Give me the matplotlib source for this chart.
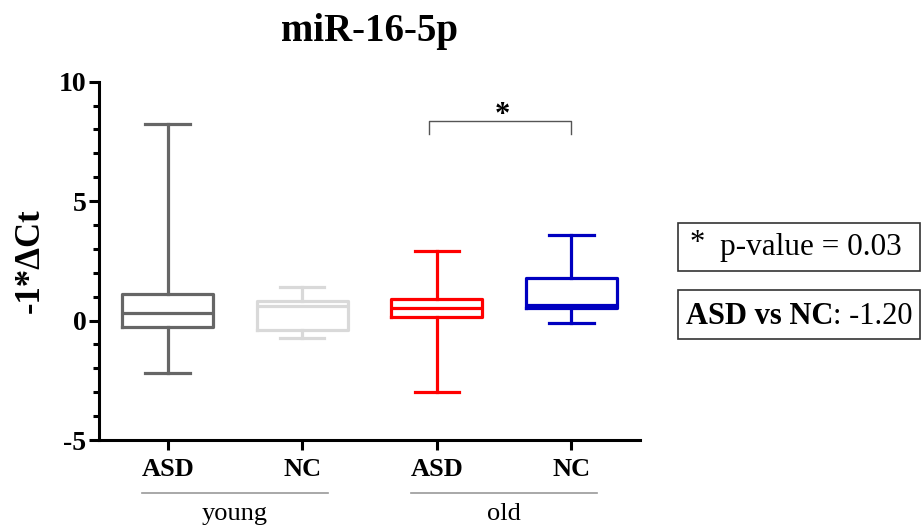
import matplotlib
matplotlib.use("Agg")
import matplotlib.pyplot as plt
import matplotlib.transforms as mtransforms
from matplotlib.patches import Rectangle
from matplotlib.ticker import MultipleLocator

plt.rcParams['font.family'] = ['Liberation Serif', 'DejaVu Serif']

# data
labels = ["ASD", "NC", "ASD", "NC"]
groups = ["young", "old"]
whislo = [-2.2, -0.75, -2.98, -0.1]
q1 = [-0.25, -0.39, 0.17, 0.54]
med = [0.31, 0.62, 0.52, 0.65]
q3 = [1.1, 0.82, 0.89, 1.79]
whishi = [8.25, 1.42, 2.92, 3.58]
colors = ["#666666", "#d9d9d9", "#ff0000", "#0000c0"]
pvalue = "p-value = 0.03"
fold = ": -1.20"

W, H = 924, 526
fig = plt.figure(figsize=(W / 100, H / 100), dpi=100)
ax = fig.add_axes([99 / W, 1 - 440 / H, (640 - 99) / W, (440 - 81.7) / H])

positions = [1, 2, 3, 4]
for i in range(4):
    st = [{"whislo": whislo[i], "q1": q1[i], "med": med[i], "q3": q3[i],
           "whishi": whishi[i], "fliers": []}]
    c = colors[i]
    ax.bxp(st, positions=[positions[i]], widths=0.675, showfliers=False,
           boxprops=dict(color=c, linewidth=2.3),
           medianprops=dict(color=c, linewidth=2.3),
           whiskerprops=dict(color=c, linewidth=2.3),
           capprops=dict(color=c, linewidth=2.3),
           capwidths=0.33, manage_ticks=False)

ax.set_xlim(0.49, 4.51)
ax.set_ylim(-5, 10)
ax.set_xticks(positions)
ax.set_xticklabels(labels, fontsize=19, fontweight="bold")
ax.set_yticks([-5, 0, 5, 10])
ax.set_yticklabels(["-5", "0", "5", "10"], fontsize=20, fontweight="bold")
ax.yaxis.set_minor_locator(MultipleLocator(1))
ax.tick_params(axis="both", which="major", length=7, width=2.2, pad=2)
ax.tick_params(axis="x", which="major", pad=6)
ax.tick_params(axis="y", which="minor", length=4.5, width=2.2)
for s in ["top", "right"]:
    ax.spines[s].set_visible(False)
for s in ["left", "bottom"]:
    ax.spines[s].set_linewidth(2.2)
ax.set_ylabel("-1*ΔCt", fontsize=25, fontweight="bold", labelpad=9)

fig.text(370 / W, 1 - 31 / H, "miR-16-5p", fontsize=28, fontweight="bold",
         ha="center", va="center")

# significance bracket
ax.plot([2.94, 2.94, 4.0, 4.0], [7.83, 8.36, 8.36, 7.83], color="#555555",
        linewidth=1.0, clip_on=False)
ax.text(3.49, 8.6, "*", fontsize=22, fontweight="bold", ha="center", va="center")

# group labels below axis
trans = mtransforms.blended_transform_factory(ax.transData, fig.transFigure)
for g, center in zip(groups, [1.5, 3.5]):
    ax.plot([center - 0.69, center + 0.69], [1 - 493 / H] * 2, color="#999999",
            linewidth=1.2, transform=trans, clip_on=False)
    ax.text(center, 1 - 514 / H, g, fontsize=19, ha="center", va="center",
            transform=trans)

# right-hand boxes
fig.add_artist(Rectangle((678 / W, 1 - 271 / H), 242 / W, 48.3 / H,
                         transform=fig.transFigure, fill=False,
                         edgecolor="#333333", linewidth=1.2))
fig.add_artist(Rectangle((678 / W, 1 - 339 / H), 242 / W, 49 / H,
                         transform=fig.transFigure, fill=False,
                         edgecolor="#333333", linewidth=1.2))
fig.text(697 / W, 1 - 243 / H, "*", fontsize=22, ha="center", va="center")
fig.text(720 / W, 1 - 248 / H, pvalue, fontsize=22.5, ha="left", va="center")
t1 = fig.text(686 / W, 1 - 316 / H, "ASD vs NC", fontsize=22, fontweight="bold",
              ha="left", va="center")
fig.canvas.draw()
bb = t1.get_window_extent()
fig.text(bb.x1 / W, 1 - 316 / H, fold, fontsize=22, ha="left", va="center")

fig.savefig("out.png", dpi=100)
